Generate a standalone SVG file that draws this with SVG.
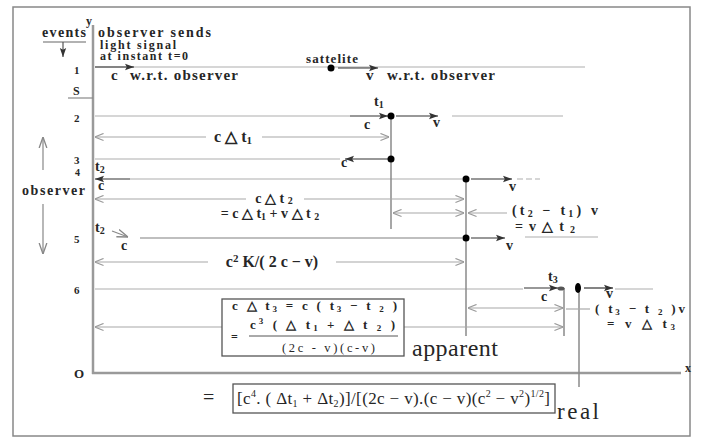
<svg xmlns="http://www.w3.org/2000/svg" width="701" height="438" viewBox="0 0 701 438" font-size="12" font-family="'Liberation Serif', 'Times New Roman', serif">
<defs>
<style>
text{fill:#262626;font-weight:bold}
.r{font-weight:normal}
.m{text-anchor:middle}
.ev{stroke:#c9c9c9;stroke-width:1.5;fill:none}
.dim{stroke:#a8a8a8;stroke-width:1.2;fill:none}
.da{marker-start:url(#oa);marker-end:url(#oa)}
.de{marker-end:url(#oa)}
.ds{marker-start:url(#oa)}
.vl{stroke:#8a8a8a;stroke-width:1.5}
.ax{stroke:#9a9a9a;stroke-width:2.5}
.mv{stroke:#333;stroke-width:1.2;marker-end:url(#ah)}
.gv{stroke:#888;stroke-width:1.2;marker-end:url(#ag)}
.dot{fill:#000}
.box{fill:#fff;stroke:#555;stroke-width:1.3}
</style>
<marker id="oa" viewBox="0 0 10 10" refX="9.5" refY="5" markerWidth="9" markerHeight="9" markerUnits="userSpaceOnUse" orient="auto-start-reverse"><path d="M0,1 L10,5 L0,9" fill="none" stroke="#9a9a9a" stroke-width="1.2"/></marker>
<marker id="ah" viewBox="0 0 10 10" refX="10" refY="5" markerWidth="9" markerHeight="9" markerUnits="userSpaceOnUse" orient="auto"><path d="M0,1.5 L10,5 L0,8.5 L2,5z" fill="#333"/></marker>
<marker id="ag" viewBox="0 0 10 10" refX="10" refY="5" markerWidth="11" markerHeight="11" markerUnits="userSpaceOnUse" orient="auto"><path d="M0,1.5 L10,5 L0,8.5" fill="none" stroke="#888" stroke-width="1.2"/></marker>
</defs>
<rect x="13" y="7" width="677" height="429" fill="#fff" stroke="#888" stroke-width="1.5"/>

<g id="axes">
<line class="ax" x1="93" y1="25" x2="93" y2="374"/>
<line class="ax" x1="92" y1="373" x2="681" y2="373"/>
<text x="86" y="25" font-size="12">y</text>
<text x="685" y="372" font-size="12">x</text>
<text x="74" y="378" font-size="13">O</text>
</g>

<g id="legend">
<text x="42" y="37" font-size="14" textLength="44">events</text>
<line x1="43" y1="42" x2="86" y2="42" stroke="#666" stroke-width="1.2"/>
<line class="mv" x1="63" y1="42" x2="63" y2="57" style="stroke:#555"/>
<text x="98" y="36.5" font-size="14" textLength="113">observer sends</text>
<text x="100" y="48.5" font-size="12" textLength="76">light signal</text>
<text x="100" y="60" font-size="12" textLength="88">at instant t=0</text>
<text x="74" y="74" font-size="11">1</text>
<text x="73" y="95" font-size="12">S</text>
<line x1="68" y1="98" x2="93" y2="98" stroke="#888" stroke-width="1.2"/>
<text x="74" y="122" font-size="11">2</text>
<text x="74" y="164" font-size="11">3</text>
<text x="75" y="176" font-size="10">4</text>
<text x="74" y="243" font-size="11">5</text>
<text x="74" y="294" font-size="11">6</text>
<text x="22" y="195" font-size="14" textLength="63">observer</text>
<line class="gv" x1="43" y1="170" x2="43" y2="137"/>
<line class="gv" x1="43" y1="204" x2="43" y2="254"/>
</g>

<g id="event-lines">
<line class="ev" x1="95" y1="67" x2="585" y2="67"/>
<line class="ev" x1="95" y1="116" x2="350" y2="116"/>
<line class="ev" x1="452" y1="116" x2="563" y2="116"/>
<line class="ev" x1="95" y1="159" x2="340" y2="159"/>
<line class="ev" x1="130" y1="179" x2="462" y2="179"/>
<line class="ev" x1="517" y1="179" x2="540" y2="179" stroke-dasharray="6 3"/>
<line class="ev" x1="140" y1="238" x2="462" y2="238" style="stroke:#aaa"/>
<line class="ev" x1="525" y1="237" x2="598" y2="237"/>
<line class="ev" x1="95" y1="289" x2="523" y2="289"/>
<line class="ev" x1="615" y1="289" x2="653" y2="289"/>
</g>

<g id="verticals">
<line class="vl" x1="391" y1="116" x2="391" y2="229"/>
<line class="vl" x1="466" y1="179" x2="466" y2="336"/>
<line class="vl" x1="564" y1="288" x2="564" y2="336"/>
<line class="vl" x1="579" y1="288" x2="579" y2="387"/>
</g>

<g id="connectors">
<line class="mv" x1="95" y1="67" x2="134" y2="67"/>
<line class="mv" x1="338" y1="68" x2="378" y2="68"/>
<line class="mv" x1="350" y1="116" x2="388" y2="116"/>
<line class="mv" x1="396" y1="116" x2="438" y2="116"/>
<line class="mv" x1="388" y1="159" x2="345" y2="159"/>
<line class="mv" x1="130" y1="179" x2="95" y2="179"/>
<line class="mv" x1="471" y1="179" x2="512" y2="179"/>
<line class="gv" x1="112" y1="231" x2="128" y2="237"/>
<line class="mv" x1="471" y1="238" x2="505" y2="238"/>
<line class="mv" x1="524" y1="288" x2="558" y2="288"/>
<line class="mv" x1="584" y1="288" x2="613" y2="288"/>

<line class="dim ds" x1="95" y1="137" x2="206" y2="137"/>
<line class="dim de" x1="262" y1="137" x2="389" y2="137"/>
<line class="dim ds" x1="95" y1="199" x2="246" y2="199"/>
<line class="dim de" x1="304" y1="199" x2="464" y2="199"/>
<line class="dim da" x1="393" y1="213" x2="464" y2="213"/>
<line class="dim de" x1="507" y1="213" x2="468" y2="213"/>
<line class="dim ds" x1="95" y1="262" x2="208" y2="262"/>
<line class="dim de" x1="336" y1="262" x2="464" y2="262"/>
<line class="dim da" x1="468" y1="308" x2="563" y2="308"/>
<line class="dim" x1="566" y1="309" x2="590" y2="309"/>
<line class="dim ds" x1="95" y1="327" x2="222" y2="327"/>
<line class="dim de" x1="404" y1="327" x2="563" y2="327"/>
</g>

<g id="dots">
<circle class="dot" cx="331" cy="68" r="3.5"/>
<circle class="dot" cx="391" cy="116" r="3.5"/>
<circle class="dot" cx="391" cy="159" r="3.5"/>
<circle class="dot" cx="466" cy="179" r="3.5"/>
<circle class="dot" cx="466" cy="238" r="3.5"/>
<ellipse cx="561" cy="288.5" rx="3.5" ry="2" fill="#555"/>
<ellipse class="dot" cx="578" cy="288" rx="3" ry="5"/>
</g>

<g id="labels">
<text x="306" y="63" font-size="13" textLength="52">sattelite</text>
<text x="111" y="80" font-size="15">c</text>
<text x="130" y="80" font-size="15" textLength="108">w.r.t. observer</text>
<text x="366" y="80" font-size="15">v</text>
<text x="387" y="80" font-size="15" textLength="108">w.r.t. observer</text>
<text x="374" y="106" font-size="14">t<tspan font-size="10" dy="2">1</tspan></text>
<text x="364" y="129" font-size="14">c</text>
<text x="433" y="127" font-size="14">v</text>
<text x="341" y="167" font-size="14">c</text>
<text x="95" y="171" font-size="14">t<tspan font-size="10" dy="2">2</tspan></text>
<text x="98" y="190" font-size="14">c</text>
<text x="509" y="191" font-size="14">v</text>
<text x="95" y="232" font-size="14">t<tspan font-size="10" dy="2">2</tspan></text>
<text x="121" y="250" font-size="14">c</text>
<text x="506" y="250" font-size="14">v</text>
<text x="548" y="281" font-size="14">t<tspan font-size="10" dy="2">3</tspan></text>
<text x="541" y="301" font-size="14">c</text>
<text x="606" y="298" font-size="14">v</text>
<text class="m" x="233" y="142" font-size="16">c △ t<tspan font-size="11" dy="2">1</tspan></text>
<text class="m" x="274" y="203" font-size="14">c △ t <tspan font-size="10" dy="1">2</tspan></text>
<text class="m" x="270" y="218" font-size="14">= c △ t<tspan font-size="10" dy="2">1</tspan><tspan dy="-2"> + v △ t </tspan><tspan font-size="10" dy="2">2</tspan></text>
<text class="m" x="272" y="267" font-size="16">c<tspan font-size="11" dy="-5">2</tspan><tspan dy="5"> K/( 2 c − v)</tspan></text>
<text x="512" y="215" font-size="14" textLength="86">(t<tspan font-size="10" dy="2">2</tspan><tspan dy="-2"> − t</tspan><tspan font-size="10" dy="2">1</tspan><tspan dy="-2">)  v</tspan></text>
<text x="515" y="231" font-size="14" textLength="60">= v △ t <tspan font-size="10" dy="2">2</tspan></text>
<text x="595" y="313" font-size="13" textLength="90">( t<tspan font-size="9" dy="1.5">3</tspan><tspan dy="-1.5"> − t </tspan><tspan font-size="9" dy="1.5">2</tspan><tspan dy="-1.5"> )v</tspan></text>
<text x="607" y="328" font-size="13" textLength="68">= v △ t<tspan font-size="9" dy="1.5">3</tspan></text>
</g>

<g id="apparent-box">
<rect class="box" x="222" y="299" width="182" height="57"/>
<text x="232" y="310" font-size="13" textLength="165">c △ t<tspan font-size="9" dy="2">3</tspan><tspan dy="-2"> = c ( t</tspan><tspan font-size="9" dy="2">3</tspan><tspan dy="-2"> − t </tspan><tspan font-size="9" dy="2">2</tspan><tspan dy="-2"> )</tspan></text>
<text x="231" y="341" font-size="12">=</text>
<text x="250" y="329" font-size="13" textLength="145">c<tspan font-size="9" dy="-5">3</tspan><tspan dy="5"> ( △ t</tspan><tspan font-size="9" dy="2">1</tspan><tspan dy="-2"> + △ t </tspan><tspan font-size="9" dy="2">2</tspan><tspan dy="-2"> )</tspan></text>
<line x1="249" y1="336" x2="398" y2="336" stroke="#555" stroke-width="1"/>
<text class="r" x="282" y="352" font-size="12.5" textLength="93">(2c - v)(c-v)</text>
<text class="r" x="412" y="356" font-size="24" textLength="86">apparent</text>
</g>

<g id="real-box">
<text class="r" x="203" y="404" font-size="20">=</text>
<rect class="box" x="233" y="384" width="322" height="29"/>
<text class="r" x="237" y="404" font-size="17" textLength="313">[c<tspan font-size="10" dy="-7">4</tspan><tspan dy="7">. ( Δt</tspan><tspan font-size="10" dy="3">1</tspan><tspan dy="-3"> + Δt</tspan><tspan font-size="10" dy="3">2</tspan><tspan dy="-3">)]/[(2c − v).(c − v)(c</tspan><tspan font-size="10" dy="-7">2</tspan><tspan dy="7"> − v</tspan><tspan font-size="10" dy="-7">2</tspan><tspan dy="7">)</tspan><tspan font-size="10" dy="-7">1/2</tspan><tspan dy="7">]</tspan></text>
<text class="r" x="557" y="419" font-size="23" textLength="42">real</text>
</g>
</svg>
